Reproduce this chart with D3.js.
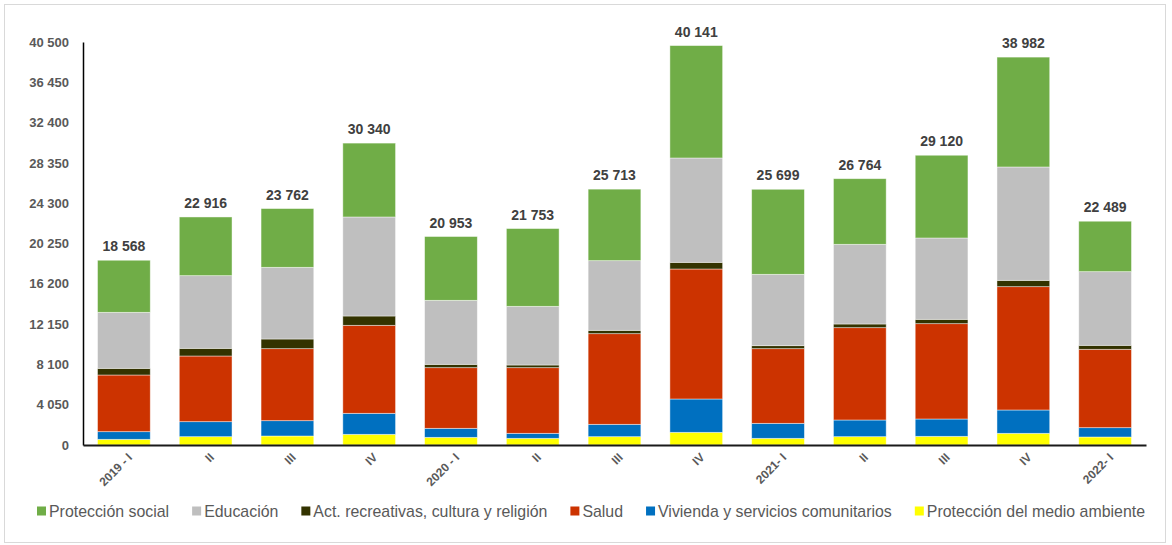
<!DOCTYPE html>
<html>
<head>
<meta charset="utf-8">
<script src="https://cdn.jsdelivr.net/npm/d3@7"></script>
<style>
  body { margin: 0; background: #fff; }
  svg { font-family: "Liberation Sans", Arial, sans-serif; }
</style>
</head>
<body>
<div id="chart"></div>
<script>
// periods (quarters)
const periods = ["2019 - I", "II", "III", "IV", "2020 - I", "II", "III", "IV", "2021- I", "II", "III", "IV", "2022- I"];

// series values
const medioAmbiente = [570, 838, 905, 1072, 770, 670, 838, 1273, 670, 838, 871, 1173, 804];
const vivienda = [770, 1507, 1540, 2111, 905, 503, 1239, 3350, 1507, 1675, 1742, 2345, 938];
const salud = [5695, 6600, 7237, 8843, 6097, 6599, 9112, 13065, 7505, 9279, 9581, 12395, 7873];
const actRecreativas = [670, 770, 971, 939, 335, 268, 335, 670, 301, 369, 436, 636, 402];
const educacion = [5628, 7303, 7203, 9950, 6432, 5896, 7002, 10486, 7169, 8007, 8174, 11391, 7403];
const proteccionSocial = [5235, 5898, 5906, 7425, 6414, 7817, 7187, 11297, 8547, 6596, 8316, 11042, 5069];

// labelled totals
const totals = [18568, 22916, 23762, 30340, 20953, 21753, 25713, 40141, 25699, 26764, 29120, 38982, 22489];

// y tick labels
const yTicks = [0, 4050, 8100, 12150, 16200, 20250, 24300, 28350, 32400, 36450, 40500];

// stacking order bottom -> top
const series = [
  {key: "Protección del medio ambiente", values: medioAmbiente, color: "#FFFF00"},
  {key: "Vivienda y servicios comunitarios", values: vivienda, color: "#0070C0"},
  {key: "Salud", values: salud, color: "#CC3300"},
  {key: "Act. recreativas, cultura y religión", values: actRecreativas, color: "#333300"},
  {key: "Educación", values: educacion, color: "#BFBFBF"},
  {key: "Protección social", values: proteccionSocial, color: "#70AD47"}
];

const width = 1172, height = 545;
const margin = {top: 42, left: 83, right: 26, bottom: 100};

const locale = d3.formatLocale({decimal: ",", thousands: " ", grouping: [3], currency: ["", ""]});
const fmt = locale.format(",d");

const svg = d3.select("#chart").append("svg")
  .attr("width", width)
  .attr("height", height);

// outer frame
svg.append("rect")
  .attr("x", 4.5).attr("y", 4.5)
  .attr("width", 1161).attr("height", 538)
  .attr("fill", "#fff")
  .attr("stroke", "#D9D9D9");

const table = periods.map((p, i) => {
  const row = {idx: i};
  series.forEach(s => { row[s.key] = s.values[i]; });
  return row;
});

const stack = d3.stack().keys(series.map(s => s.key));
const stacked = stack(table);

const x = d3.scaleBand()
  .domain(d3.range(periods.length))
  .range([margin.left, width - margin.right])
  .paddingInner(0.355)
  .paddingOuter(0.1775);

const y = d3.scaleLinear()
  .domain([0, 40500])
  .range([height - margin.bottom, margin.top]);

//bars
const layers = svg.append("g").selectAll("g")
  .data(stacked)
  .enter().append("g")
  .attr("fill", (d, i) => series[i].color);

layers.selectAll("rect")
  .data(d => d)
  .enter().append("rect")
  .attr("x", d => x(d.data.idx))
  .attr("y", d => y(d[1]))
  .attr("width", x.bandwidth())
  .attr("height", d => y(d[0]) - y(d[1]))
  .attr("stroke", "#ffffff")
  .attr("stroke-opacity", 0.55)
  .attr("stroke-width", 0.8);

// total labels on top
svg.append("g").selectAll("text")
  .data(totals)
  .enter().append("text")
  .attr("x", (d, i) => x(i) + x.bandwidth() / 2)
  .attr("y", (d, i) => y(d3.sum(series, s => s.values[i])) - 9)
  .attr("text-anchor", "middle")
  .style("font-size", "14px")
  .style("font-weight", "bold")
  .attr("fill", "#404040")
  .text(d => fmt(d));

// y axis
const yAxis = svg.append("g")
  .attr("transform", "translate(" + margin.left + ",0)")
  .call(d3.axisLeft(y).tickValues(yTicks).tickSize(0).tickPadding(14).tickFormat(fmt));
yAxis.select(".domain").attr("stroke", "#000").attr("stroke-width", 1.5);
yAxis.selectAll("text")
  .style("font-size", "13px")
  .style("font-weight", "bold")
  .style("font-family", "'Liberation Sans', Arial, sans-serif")
  .attr("fill", "#595959");

// x axis
const xAxis = svg.append("g")
  .attr("transform", "translate(0," + y(0) + ")")
  .call(d3.axisBottom(x).tickSize(0).tickFormat(i => periods[i]));
xAxis.select(".domain").attr("stroke", "#1a1a1a").attr("stroke-width", 2);
xAxis.selectAll("text")
  .attr("transform", "translate(4,8) rotate(-45)")
  .attr("text-anchor", "end")
  .attr("dy", "0.35em")
  .style("font-size", "12px")
  .style("font-weight", "bold")
  .style("font-family", "'Liberation Sans', Arial, sans-serif")
  .attr("fill", "#595959");

// legend (top series first)
const legendOrder = series.slice().reverse();
const legend = svg.append("g").attr("transform", "translate(37,511)");
let lx = 0;
legendOrder.forEach(s => {
  const item = legend.append("g").attr("transform", "translate(" + lx + ",0)");
  item.append("rect")
    .attr("x", 0).attr("y", -4.5)
    .attr("width", 9).attr("height", 9)
    .attr("fill", s.color);
  const t = item.append("text")
    .attr("x", 12)
    .attr("dy", "0.35em")
    .style("font-size", "15.9px")
    .attr("fill", "#595959")
    .text(s.key);
  lx += 12 + t.node().getComputedTextLength() + 23;
});
</script>
</body>
</html>
